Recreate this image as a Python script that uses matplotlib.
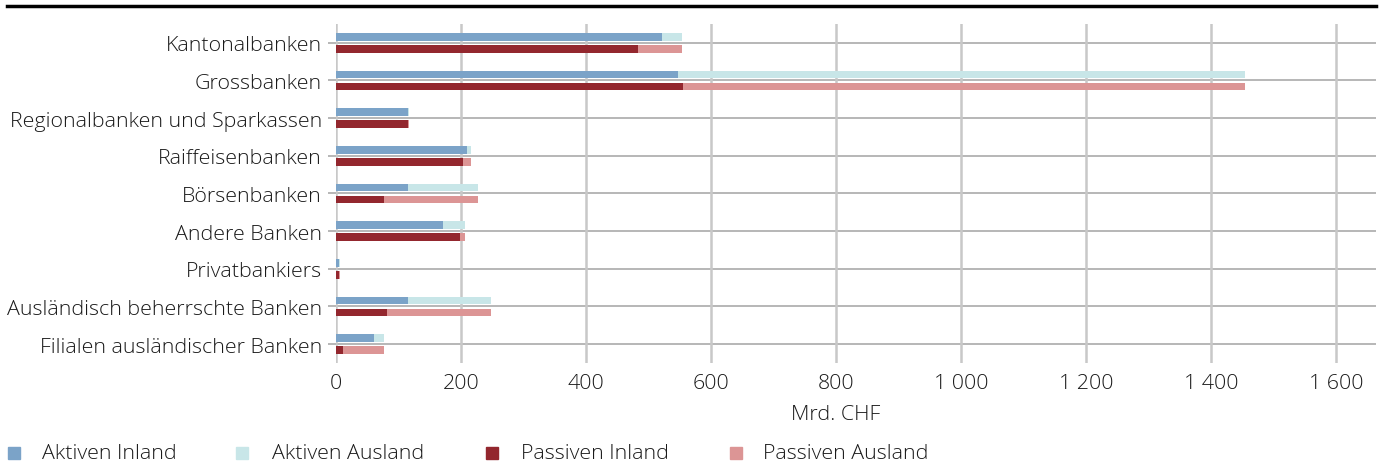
import matplotlib
matplotlib.use("Agg")
import matplotlib.pyplot as plt
from matplotlib.patches import Rectangle
import numpy as np

plt.rcParams['font.family'] = ['Open Sans', 'DejaVu Sans']
plt.rcParams['font.weight'] = 'light'

categories = ["Kantonalbanken", "Grossbanken", "Regionalbanken und Sparkassen",
              "Raiffeisenbanken", "Börsenbanken", "Andere Banken", "Privatbankiers",
              "Ausländisch beherrschte Banken", "Filialen ausländischer Banken"]
aktiven_inland = [521, 547, 115, 210, 115, 171, 5, 115, 61]
aktiven_ausland = [32, 907, 2, 6, 112, 35, 1.5, 133, 16]
passiven_inland = [483, 555, 115, 203, 77, 198, 5, 82, 11]
passiven_ausland = [70, 899, 2, 13, 150, 8, 1.5, 166, 66]
series_names = ["Aktiven Inland", "Aktiven Ausland", "Passiven Inland", "Passiven Ausland"]
colors = ["#7ba3c8", "#c8e6e8", "#93272e", "#dc9595"]
xticks = [0, 200, 400, 600, 800, 1000, 1200, 1400, 1600]
xticklabels = ["0", "200", "400", "600", "800", "1 000", "1 200", "1 400", "1 600"]

FS = 15.4
TC = "#1a1a1a"
W, H = 1383, 464
fig = plt.figure(figsize=(W / 100, H / 100), dpi=100)
ax = fig.add_axes([336 / W, 1 - 364 / H, (1376 - 336) / W, (364 - 25) / H])

y = np.arange(len(categories))
h = 0.21
off = 0.16
ax.barh(y - off, aktiven_inland, height=h, color=colors[0], zorder=3)
ax.barh(y - off, aktiven_ausland, left=aktiven_inland, height=h, color=colors[1], zorder=3)
ax.barh(y + off, passiven_inland, height=h, color=colors[2], zorder=3)
ax.barh(y + off, passiven_ausland, left=passiven_inland, height=h, color=colors[3], zorder=3)

ax.set_xlim(0, 1664)
ax.set_ylim(len(categories) - 0.5, -0.5)
ax.set_yticks(y)
ax.set_yticklabels(categories, fontsize=FS, color=TC)
ax.set_xticks(xticks)
ax.set_xticklabels(xticklabels, fontsize=FS, color=TC)
ax.tick_params(axis='y', length=6, width=1.2, color="#aaaaaa", pad=4)
ax.tick_params(axis='x', length=0, pad=7)
for s in ax.spines.values():
    s.set_visible(False)
for yy in y:
    ax.axhline(yy, color="#aaaaaa", lw=1.2, zorder=1)
for xx in xticks:
    ax.axvline(xx, color="#c8c8c8", lw=1.8, zorder=1)
ax.set_xlabel("Mrd. CHF", fontsize=FS, color=TC, fontweight='light')
ax.xaxis.set_label_coords(800 / 1664, -0.12)

# top rule
fig.add_artist(plt.Line2D([7 / W, 1376 / W], [1 - 7 / H, 1 - 7 / H], color="black", lw=2.5))

# legend
sq_x = [8, 236, 486, 730]
tx_x = [42, 272, 521, 763]
ly = 454
for i in range(4):
    fig.add_artist(Rectangle((sq_x[i] / W, 1 - (ly + 6) / H), 12 / W, 12 / H,
                             transform=fig.transFigure, color=colors[i]))
    fig.text(tx_x[i] / W, 1 - ly / H, series_names[i], fontsize=FS, color=TC,
             va="center", ha="left")

fig.savefig("out.png", dpi=100)
